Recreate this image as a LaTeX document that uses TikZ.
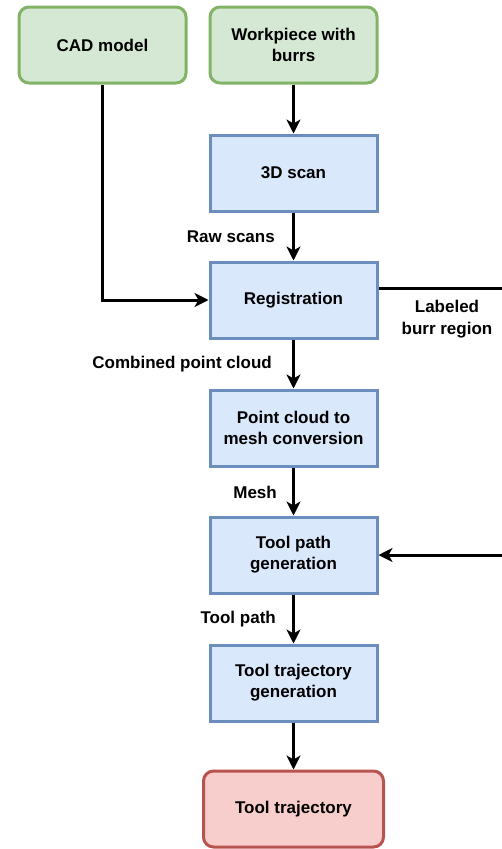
\documentclass[tikz,border=0pt]{standalone}
\usepackage{fontspec}
\setmainfont{Liberation Sans}
\usetikzlibrary{arrows.meta}
\definecolor{gfill}{HTML}{D5E8D4}\definecolor{gline}{HTML}{82B366}
\definecolor{bfill}{HTML}{DAE8FC}\definecolor{bline}{HTML}{6C8EBF}
\definecolor{rfill}{HTML}{F8CECC}\definecolor{rline}{HTML}{B85450}
\begin{document}
\begin{tikzpicture}[x=1pt,y=-1pt,
  box/.style={minimum width=167pt,minimum height=76pt,inner sep=0pt,align=center,font=\fontsize{17}{21}\selectfont\bfseries,line width=3pt},
  gbox/.style={box,draw=gline,fill=gfill,rounded corners=10pt},
  bbox/.style={box,draw=bline,fill=bfill},
  rbox/.style={box,draw=rline,fill=rfill,rounded corners=10pt,minimum width=180pt},
  lab/.style={font=\fontsize{17}{22}\selectfont\bfseries,inner sep=0pt,align=center},
  conn/.style={line width=3pt,-{Stealth[length=14pt,width=14pt,inset=4pt]}},
  plain/.style={line width=3pt}]
\useasboundingbox (0,0) rectangle (502,849);
\node[gbox] (cad) at (102.5,45) {CAD model};
\node[gbox] (work) at (293.5,45) {Workpiece with\\burrs};
\node[bbox] (scan) at (293.5,173) {3D scan};
\node[bbox] (reg) at (293.5,300) {Registration};
\node[bbox] (pc) at (293.5,428) {Point cloud to\\mesh conversion};
\node[bbox] (tp) at (293.5,555) {Tool path\\generation};
\node[bbox] (tt) at (293.5,683) {Tool trajectory\\generation};
\node[rbox] (traj) at (293.5,809) {Tool trajectory};
\coordinate (r1) at (502,288);
\coordinate (r2) at (502,555);
\draw[conn] (work) -- (scan);
\draw[conn] (scan) -- (reg);
\draw[conn] (reg) -- (pc);
\draw[conn] (pc) -- (tp);
\draw[conn] (tp) -- (tt);
\draw[conn] (tt) -- (traj);
\draw[conn] (cad.south) |- (reg.west);
\draw[plain] (reg.east |- r1) -- (r1);
\draw[conn] (r2) -- (tp.east);
\node[lab,anchor=east] (l1) at (275,237) {Raw scans};
\node[lab,anchor=east] (l2) at (272,364) {Combined point cloud};
\node[lab,anchor=east] (l3) at (277,492) {Mesh};
\node[lab,anchor=east] (l4) at (276,619) {Tool path};
\node[lab] (l5) at (447,319) {Labeled\\burr region};
\end{tikzpicture}
\end{document}
